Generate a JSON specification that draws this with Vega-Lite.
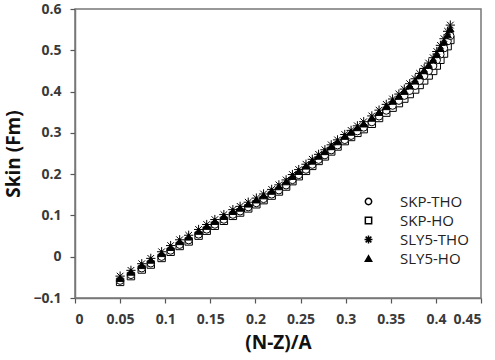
{
  "$schema": "https://vega.github.io/schema/vega-lite/v6.json",
  "width": 406,
  "height": 289,
  "autosize": {"type": "none"},
  "padding": {"left": 75, "top": 9, "right": 14, "bottom": 62},
  "config": {
    "font": "Open Sans",
    "view": {"stroke": "#777", "strokeWidth": 1.5},
    "axis": {
      "grid": false,
      "domainColor": "#777",
      "domainWidth": 1.5,
      "tickColor": "#555",
      "tickWidth": 1.2,
      "tickSize": 5,
      "labelFont": "Open Sans",
      "labelFontWeight": 700,
      "labelFontSize": 14,
      "labelColor": "#3a3a3a",
      "labelOverlap": false,
      "titleFont": "Open Sans",
      "titleFontWeight": 700,
      "titleFontSize": 19,
      "titleColor": "#111"
    },
    "legend": {
      "labelFont": "Open Sans",
      "labelFontSize": 15,
      "labelColor": "#222"
    }
  },
  "data": {
    "values": [
      {"series": "SKP-HO", "x": 0.050, "y": -0.061}, {"series": "SKP-HO", "x": 0.062, "y": -0.047}, {"series": "SKP-HO", "x": 0.074, "y": -0.031}, {"series": "SKP-HO", "x": 0.084, "y": -0.019},
      {"series": "SKP-HO", "x": 0.096, "y": -0.003}, {"series": "SKP-HO", "x": 0.106, "y": 0.012}, {"series": "SKP-HO", "x": 0.116, "y": 0.026}, {"series": "SKP-HO", "x": 0.126, "y": 0.037},
      {"series": "SKP-HO", "x": 0.137, "y": 0.051}, {"series": "SKP-HO", "x": 0.146, "y": 0.063}, {"series": "SKP-HO", "x": 0.155, "y": 0.075}, {"series": "SKP-HO", "x": 0.165, "y": 0.087},
      {"series": "SKP-HO", "x": 0.175, "y": 0.099}, {"series": "SKP-HO", "x": 0.183, "y": 0.107}, {"series": "SKP-HO", "x": 0.192, "y": 0.117}, {"series": "SKP-HO", "x": 0.201, "y": 0.127},
      {"series": "SKP-HO", "x": 0.209, "y": 0.137}, {"series": "SKP-HO", "x": 0.218, "y": 0.148}, {"series": "SKP-HO", "x": 0.226, "y": 0.158}, {"series": "SKP-HO", "x": 0.234, "y": 0.170},
      {"series": "SKP-HO", "x": 0.241, "y": 0.183}, {"series": "SKP-HO", "x": 0.248, "y": 0.195}, {"series": "SKP-HO", "x": 0.256, "y": 0.208}, {"series": "SKP-HO", "x": 0.263, "y": 0.220},
      {"series": "SKP-HO", "x": 0.270, "y": 0.232}, {"series": "SKP-HO", "x": 0.277, "y": 0.243}, {"series": "SKP-HO", "x": 0.284, "y": 0.255}, {"series": "SKP-HO", "x": 0.291, "y": 0.267},
      {"series": "SKP-HO", "x": 0.299, "y": 0.280}, {"series": "SKP-HO", "x": 0.306, "y": 0.290}, {"series": "SKP-HO", "x": 0.313, "y": 0.300}, {"series": "SKP-HO", "x": 0.320, "y": 0.309},
      {"series": "SKP-HO", "x": 0.329, "y": 0.322}, {"series": "SKP-HO", "x": 0.337, "y": 0.336}, {"series": "SKP-HO", "x": 0.345, "y": 0.349}, {"series": "SKP-HO", "x": 0.352, "y": 0.361},
      {"series": "SKP-HO", "x": 0.359, "y": 0.372}, {"series": "SKP-HO", "x": 0.365, "y": 0.383}, {"series": "SKP-HO", "x": 0.371, "y": 0.394}, {"series": "SKP-HO", "x": 0.377, "y": 0.405},
      {"series": "SKP-HO", "x": 0.382, "y": 0.416}, {"series": "SKP-HO", "x": 0.387, "y": 0.427}, {"series": "SKP-HO", "x": 0.392, "y": 0.439}, {"series": "SKP-HO", "x": 0.397, "y": 0.450},
      {"series": "SKP-HO", "x": 0.401, "y": 0.463}, {"series": "SKP-HO", "x": 0.405, "y": 0.477}, {"series": "SKP-HO", "x": 0.409, "y": 0.492}, {"series": "SKP-HO", "x": 0.413, "y": 0.510}, {"series": "SKP-HO", "x": 0.416, "y": 0.525},

      {"series": "SKP-THO", "x": 0.050, "y": -0.058}, {"series": "SKP-THO", "x": 0.062, "y": -0.044}, {"series": "SKP-THO", "x": 0.074, "y": -0.028}, {"series": "SKP-THO", "x": 0.084, "y": -0.016},
      {"series": "SKP-THO", "x": 0.096, "y": 0.000}, {"series": "SKP-THO", "x": 0.106, "y": 0.015}, {"series": "SKP-THO", "x": 0.116, "y": 0.029}, {"series": "SKP-THO", "x": 0.126, "y": 0.040},
      {"series": "SKP-THO", "x": 0.137, "y": 0.054}, {"series": "SKP-THO", "x": 0.146, "y": 0.066}, {"series": "SKP-THO", "x": 0.155, "y": 0.078}, {"series": "SKP-THO", "x": 0.165, "y": 0.090},
      {"series": "SKP-THO", "x": 0.175, "y": 0.102}, {"series": "SKP-THO", "x": 0.183, "y": 0.110}, {"series": "SKP-THO", "x": 0.192, "y": 0.120}, {"series": "SKP-THO", "x": 0.201, "y": 0.130},
      {"series": "SKP-THO", "x": 0.209, "y": 0.140}, {"series": "SKP-THO", "x": 0.218, "y": 0.151}, {"series": "SKP-THO", "x": 0.226, "y": 0.161}, {"series": "SKP-THO", "x": 0.234, "y": 0.173},
      {"series": "SKP-THO", "x": 0.241, "y": 0.186}, {"series": "SKP-THO", "x": 0.248, "y": 0.198}, {"series": "SKP-THO", "x": 0.256, "y": 0.211}, {"series": "SKP-THO", "x": 0.263, "y": 0.223},
      {"series": "SKP-THO", "x": 0.270, "y": 0.235}, {"series": "SKP-THO", "x": 0.277, "y": 0.246}, {"series": "SKP-THO", "x": 0.284, "y": 0.258}, {"series": "SKP-THO", "x": 0.291, "y": 0.270},
      {"series": "SKP-THO", "x": 0.299, "y": 0.283}, {"series": "SKP-THO", "x": 0.306, "y": 0.293}, {"series": "SKP-THO", "x": 0.313, "y": 0.304}, {"series": "SKP-THO", "x": 0.320, "y": 0.313},
      {"series": "SKP-THO", "x": 0.329, "y": 0.326}, {"series": "SKP-THO", "x": 0.337, "y": 0.340}, {"series": "SKP-THO", "x": 0.345, "y": 0.354}, {"series": "SKP-THO", "x": 0.352, "y": 0.366},
      {"series": "SKP-THO", "x": 0.359, "y": 0.378}, {"series": "SKP-THO", "x": 0.365, "y": 0.390}, {"series": "SKP-THO", "x": 0.371, "y": 0.402}, {"series": "SKP-THO", "x": 0.377, "y": 0.414},
      {"series": "SKP-THO", "x": 0.382, "y": 0.426}, {"series": "SKP-THO", "x": 0.387, "y": 0.438}, {"series": "SKP-THO", "x": 0.392, "y": 0.450}, {"series": "SKP-THO", "x": 0.397, "y": 0.462},
      {"series": "SKP-THO", "x": 0.401, "y": 0.476}, {"series": "SKP-THO", "x": 0.405, "y": 0.490}, {"series": "SKP-THO", "x": 0.409, "y": 0.505}, {"series": "SKP-THO", "x": 0.413, "y": 0.522}, {"series": "SKP-THO", "x": 0.416, "y": 0.535},

      {"series": "SLY5-HO", "x": 0.050, "y": -0.052}, {"series": "SLY5-HO", "x": 0.062, "y": -0.037}, {"series": "SLY5-HO", "x": 0.074, "y": -0.021}, {"series": "SLY5-HO", "x": 0.084, "y": -0.008},
      {"series": "SLY5-HO", "x": 0.096, "y": 0.008}, {"series": "SLY5-HO", "x": 0.106, "y": 0.023}, {"series": "SLY5-HO", "x": 0.116, "y": 0.037}, {"series": "SLY5-HO", "x": 0.126, "y": 0.048},
      {"series": "SLY5-HO", "x": 0.137, "y": 0.062}, {"series": "SLY5-HO", "x": 0.146, "y": 0.074}, {"series": "SLY5-HO", "x": 0.155, "y": 0.086}, {"series": "SLY5-HO", "x": 0.165, "y": 0.098},
      {"series": "SLY5-HO", "x": 0.175, "y": 0.110}, {"series": "SLY5-HO", "x": 0.183, "y": 0.118}, {"series": "SLY5-HO", "x": 0.192, "y": 0.128}, {"series": "SLY5-HO", "x": 0.201, "y": 0.138},
      {"series": "SLY5-HO", "x": 0.209, "y": 0.148}, {"series": "SLY5-HO", "x": 0.218, "y": 0.159}, {"series": "SLY5-HO", "x": 0.226, "y": 0.170}, {"series": "SLY5-HO", "x": 0.234, "y": 0.182},
      {"series": "SLY5-HO", "x": 0.241, "y": 0.195}, {"series": "SLY5-HO", "x": 0.248, "y": 0.207}, {"series": "SLY5-HO", "x": 0.256, "y": 0.220}, {"series": "SLY5-HO", "x": 0.263, "y": 0.232},
      {"series": "SLY5-HO", "x": 0.270, "y": 0.244}, {"series": "SLY5-HO", "x": 0.277, "y": 0.255}, {"series": "SLY5-HO", "x": 0.284, "y": 0.267}, {"series": "SLY5-HO", "x": 0.291, "y": 0.279},
      {"series": "SLY5-HO", "x": 0.299, "y": 0.292}, {"series": "SLY5-HO", "x": 0.306, "y": 0.302}, {"series": "SLY5-HO", "x": 0.313, "y": 0.313}, {"series": "SLY5-HO", "x": 0.320, "y": 0.322},
      {"series": "SLY5-HO", "x": 0.329, "y": 0.336}, {"series": "SLY5-HO", "x": 0.337, "y": 0.350}, {"series": "SLY5-HO", "x": 0.345, "y": 0.364}, {"series": "SLY5-HO", "x": 0.352, "y": 0.377},
      {"series": "SLY5-HO", "x": 0.359, "y": 0.389}, {"series": "SLY5-HO", "x": 0.365, "y": 0.401}, {"series": "SLY5-HO", "x": 0.371, "y": 0.414}, {"series": "SLY5-HO", "x": 0.377, "y": 0.426},
      {"series": "SLY5-HO", "x": 0.382, "y": 0.439}, {"series": "SLY5-HO", "x": 0.387, "y": 0.451}, {"series": "SLY5-HO", "x": 0.392, "y": 0.464}, {"series": "SLY5-HO", "x": 0.397, "y": 0.477},
      {"series": "SLY5-HO", "x": 0.401, "y": 0.491}, {"series": "SLY5-HO", "x": 0.405, "y": 0.505}, {"series": "SLY5-HO", "x": 0.409, "y": 0.521}, {"series": "SLY5-HO", "x": 0.413, "y": 0.538}, {"series": "SLY5-HO", "x": 0.416, "y": 0.552},

      {"series": "SLY5-THO", "x": 0.050, "y": -0.047}, {"series": "SLY5-THO", "x": 0.062, "y": -0.033}, {"series": "SLY5-THO", "x": 0.074, "y": -0.017}, {"series": "SLY5-THO", "x": 0.084, "y": -0.004},
      {"series": "SLY5-THO", "x": 0.096, "y": 0.012}, {"series": "SLY5-THO", "x": 0.106, "y": 0.027}, {"series": "SLY5-THO", "x": 0.116, "y": 0.041}, {"series": "SLY5-THO", "x": 0.126, "y": 0.052},
      {"series": "SLY5-THO", "x": 0.137, "y": 0.066}, {"series": "SLY5-THO", "x": 0.146, "y": 0.078}, {"series": "SLY5-THO", "x": 0.155, "y": 0.090}, {"series": "SLY5-THO", "x": 0.165, "y": 0.102},
      {"series": "SLY5-THO", "x": 0.175, "y": 0.114}, {"series": "SLY5-THO", "x": 0.183, "y": 0.122}, {"series": "SLY5-THO", "x": 0.192, "y": 0.132}, {"series": "SLY5-THO", "x": 0.201, "y": 0.142},
      {"series": "SLY5-THO", "x": 0.209, "y": 0.152}, {"series": "SLY5-THO", "x": 0.218, "y": 0.163}, {"series": "SLY5-THO", "x": 0.226, "y": 0.174}, {"series": "SLY5-THO", "x": 0.234, "y": 0.186},
      {"series": "SLY5-THO", "x": 0.241, "y": 0.199}, {"series": "SLY5-THO", "x": 0.248, "y": 0.211}, {"series": "SLY5-THO", "x": 0.256, "y": 0.224}, {"series": "SLY5-THO", "x": 0.263, "y": 0.236},
      {"series": "SLY5-THO", "x": 0.270, "y": 0.248}, {"series": "SLY5-THO", "x": 0.277, "y": 0.259}, {"series": "SLY5-THO", "x": 0.284, "y": 0.271}, {"series": "SLY5-THO", "x": 0.291, "y": 0.283},
      {"series": "SLY5-THO", "x": 0.299, "y": 0.296}, {"series": "SLY5-THO", "x": 0.306, "y": 0.306}, {"series": "SLY5-THO", "x": 0.313, "y": 0.317}, {"series": "SLY5-THO", "x": 0.320, "y": 0.327},
      {"series": "SLY5-THO", "x": 0.329, "y": 0.341}, {"series": "SLY5-THO", "x": 0.337, "y": 0.355}, {"series": "SLY5-THO", "x": 0.345, "y": 0.369}, {"series": "SLY5-THO", "x": 0.352, "y": 0.382},
      {"series": "SLY5-THO", "x": 0.359, "y": 0.394}, {"series": "SLY5-THO", "x": 0.365, "y": 0.406}, {"series": "SLY5-THO", "x": 0.371, "y": 0.419}, {"series": "SLY5-THO", "x": 0.377, "y": 0.431},
      {"series": "SLY5-THO", "x": 0.382, "y": 0.444}, {"series": "SLY5-THO", "x": 0.387, "y": 0.456}, {"series": "SLY5-THO", "x": 0.392, "y": 0.469}, {"series": "SLY5-THO", "x": 0.397, "y": 0.482},
      {"series": "SLY5-THO", "x": 0.401, "y": 0.497}, {"series": "SLY5-THO", "x": 0.405, "y": 0.512}, {"series": "SLY5-THO", "x": 0.409, "y": 0.528}, {"series": "SLY5-THO", "x": 0.413, "y": 0.546}, {"series": "SLY5-THO", "x": 0.416, "y": 0.561}
    ]
  },
  "mark": {"type": "point", "filled": false, "strokeWidth": 1, "opacity": 1, "size": 55},
  "encoding": {
    "x": {"field": "x", "type": "quantitative", "scale": {"domain": [0, 0.45], "nice": false, "zero": false}, "axis": {"values": [0, 0.05, 0.1, 0.15, 0.2, 0.25, 0.3, 0.35, 0.4, 0.45], "format": "~g", "labelPadding": 9, "title": "(N-Z)/A", "titlePadding": 7}},
    "y": {"field": "y", "type": "quantitative", "scale": {"domain": [-0.1, 0.6], "nice": false, "zero": false}, "axis": {"values": [-0.1, 0, 0.1, 0.2, 0.3, 0.4, 0.5, 0.6], "format": "~g", "labelPadding": 9, "title": "Skin (Fm)", "titlePadding": 9}},
    "shape": {"field": "series", "type": "nominal", "scale": {"domain": ["SKP-THO", "SKP-HO", "SLY5-THO", "SLY5-HO"], "range": ["circle", "square", "M-1.25,0L1.25,0M0,-1.25L0,1.25M-0.9,-0.9L0.9,0.9M-0.9,0.9L0.9,-0.9", "triangle-up"]},
      "legend": {"title": null, "orient": "none", "legendX": 286, "legendY": 185, "symbolSize": 40, "rowPadding": 3, "labelOffset": 24,
        "encode": {"symbols": {"update": {"stroke": {"value": "black"}, "strokeWidth": {"value": 0.8}}}}}},
    "fill": {"field": "series", "type": "nominal", "scale": {"domain": ["SKP-THO", "SKP-HO", "SLY5-THO", "SLY5-HO"], "range": ["white", "white", "white", "black"]}, "legend": null},
    "stroke": {"value": "black"}
  }
}
